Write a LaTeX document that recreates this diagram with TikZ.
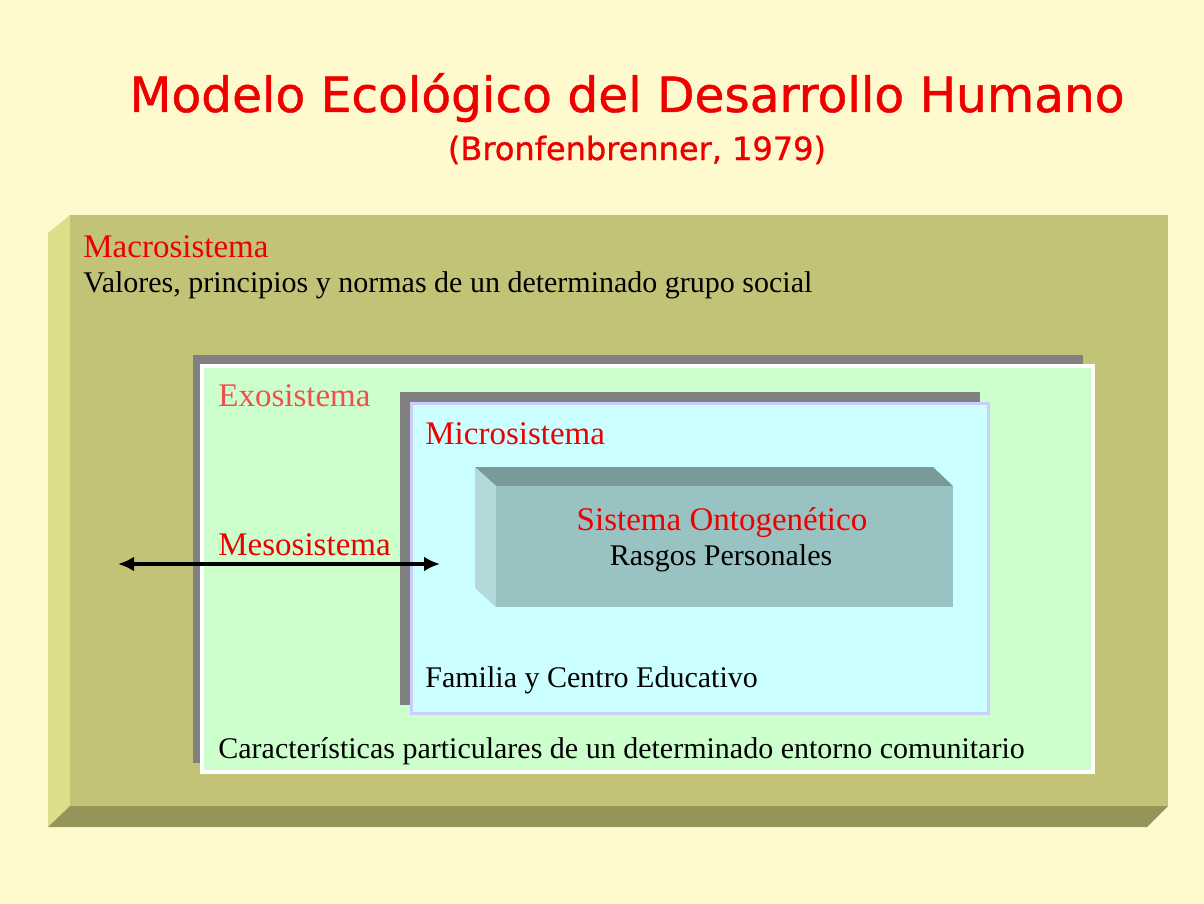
\documentclass[tikz,border=0pt]{standalone}
\usepackage{fontspec}
\setmainfont{Liberation Serif}
\newfontfamily\titlefont[FakeBold=1]{DejaVu Sans}
\usetikzlibrary{arrows.meta}
\definecolor{fondo}{HTML}{FFFACD}
\definecolor{macro}{HTML}{C3C377}
\definecolor{macrolado}{HTML}{DEDE88}
\definecolor{macrobajo}{HTML}{959559}
\definecolor{sombra}{HTML}{808080}
\definecolor{exo}{HTML}{CCFFCC}
\definecolor{micro}{HTML}{CCFFFF}
\definecolor{microborde}{HTML}{CCCCFF}
\definecolor{onto}{HTML}{99C2C2}
\definecolor{ontoarriba}{HTML}{7A9999}
\definecolor{ontolado}{HTML}{B3D9D9}
\definecolor{rojo}{HTML}{EE0000}
\definecolor{rojoexo}{HTML}{EE5050}

\begin{document}
\begin{tikzpicture}[x=0.5pt, y=-0.5pt,
  nombre/.style={anchor=base west, inner sep=0pt, text=rojo, font=\fontsize{16.5}{18}\selectfont},
  texto/.style={anchor=base west, inner sep=0pt, font=\fontsize{15}{17}\selectfont},
  titulo/.style={anchor=base, inner sep=0pt, text=rojo, font=\titlefont\fontsize{24.3}{27}\selectfont}]
\useasboundingbox (0,0) rectangle (1204,904);
\fill[fondo] (0,0) rectangle (1204,904);

% titulo
\node[titulo] (tit) at (627,112) {Modelo Ecológico del Desarrollo Humano};
\node[titulo, font=\titlefont\fontsize{16}{18}\selectfont] (subtit) at (637,160) {(Bronfenbrenner, 1979)};

% macrosistema (caja con bisel)
\fill[macrolado] (48,233) -- (70,215) -- (70,806) -- (48,827) -- cycle;
\fill[macrobajo] (70,806) -- (1168,806) -- (1147,827) -- (48,827) -- cycle;
\fill[macro] (70,215) rectangle (1168,806);
\node[nombre] (macro) at (83,257) {Macrosistema};
\node[texto] (valores) at (83,292) {Valores, principios y normas de un determinado grupo social};

% exosistema
\fill[sombra] (193,355) rectangle (1083,763);
\filldraw[fill=exo, draw=white, line width=2pt] (202,366) rectangle (1093,772);
\node[nombre, text=rojoexo] (exo) at (218,406) {Exosistema};
\node[texto] (entorno) at (218,758) {Características particulares de un determinado entorno comunitario};

% microsistema
\fill[sombra] (400,392) rectangle (980,705);
\filldraw[fill=micro, draw=microborde, line width=1.5pt] (411.5,403.5) rectangle (988.5,713.5);
\node[nombre] (micro) at (425,444) {Microsistema};
\node[texto] (familia) at (425,687) {Familia y Centro Educativo};

% sistema ontogenetico (bloque)
\fill[ontoarriba] (475,467) -- (933,467) -- (953,486) -- (496,486) -- cycle;
\fill[ontolado] (475,467) -- (496,486) -- (496,607) -- (475,588) -- cycle;
\fill[onto] (496,486) rectangle (953,607);
\node[nombre, anchor=base] (onto) at (722,530) {Sistema Ontogenético};
\node[texto, anchor=base] (rasgos) at (721,565) {Rasgos Personales};

% mesosistema
\node[nombre] (meso) at (218,555) {Mesosistema};
\coordinate (mesoizq) at (118,564);
\coordinate (mesoder) at (440,564);
\draw[{Latex[length=8pt,width=7.5pt]}-{Latex[length=8pt,width=7.5pt]}, line width=2pt] (mesoizq) -- (mesoder);
\end{tikzpicture}
\end{document}
